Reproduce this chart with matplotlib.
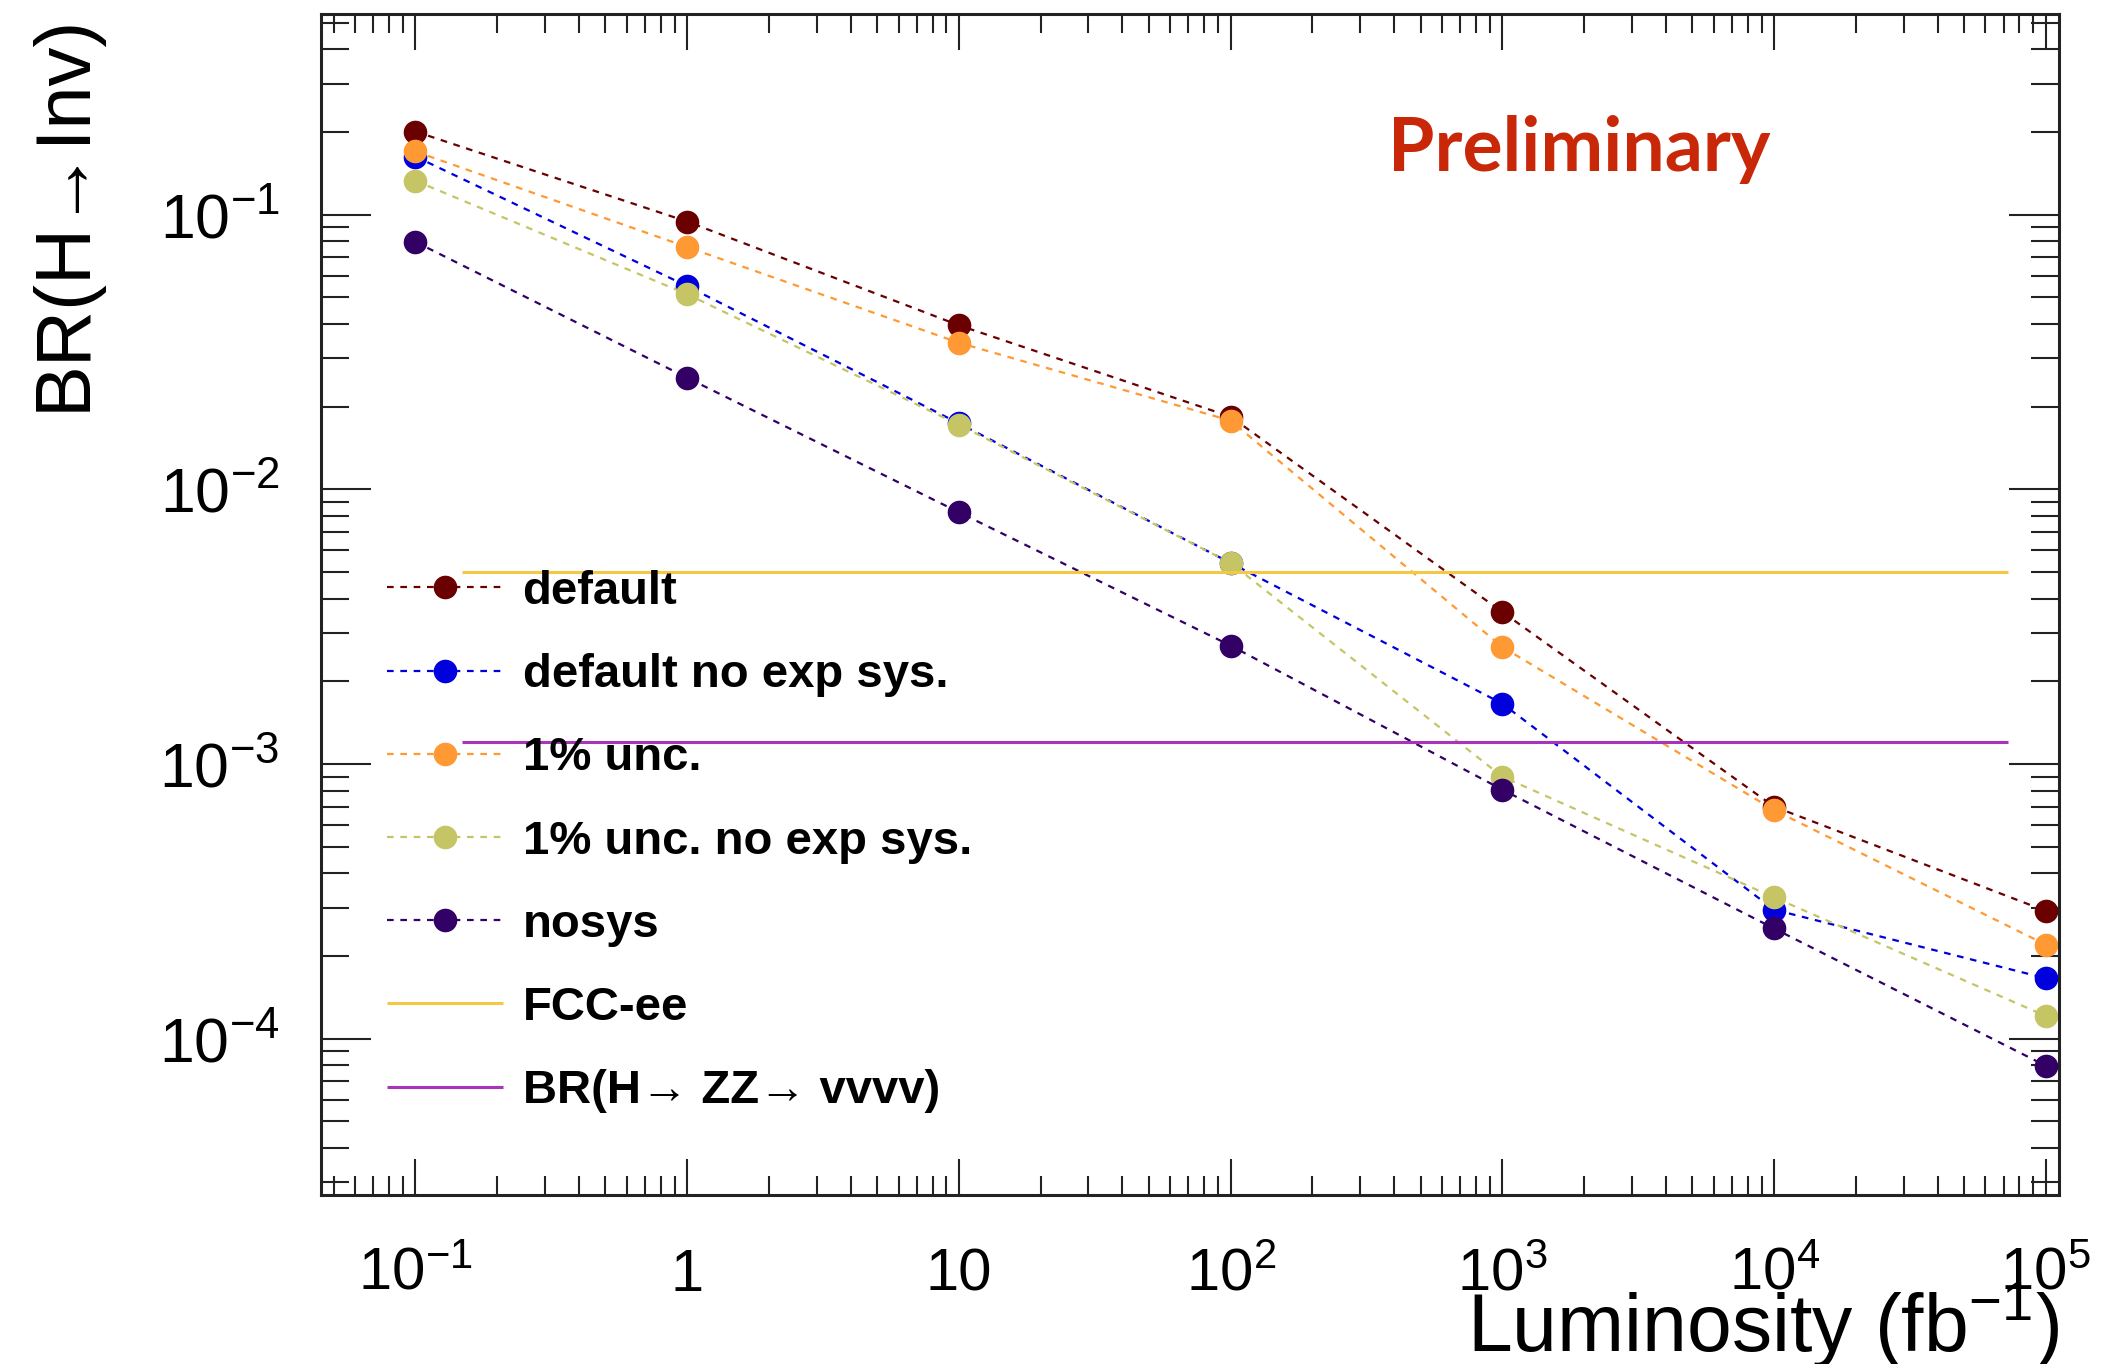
import matplotlib
matplotlib.use("Agg")
import matplotlib.pyplot as plt
from matplotlib.ticker import FixedLocator, FixedFormatter, LogLocator, NullFormatter

plt.rcParams["font.family"] = ["Liberation Sans", "DejaVu Sans"]
plt.rcParams["mathtext.fontset"] = "custom"
plt.rcParams["mathtext.rm"] = "Liberation Sans"
plt.rcParams["mathtext.it"] = "Liberation Sans:italic"
plt.rcParams["mathtext.bf"] = "Liberation Sans:bold"

# luminosity points (fb^-1)
lumi = [0.1, 1, 10, 100, 1000, 1e4, 1e5]

# BR(H->inv) reach per scenario
br_default = [0.201, 0.0945, 0.0396, 0.0184, 0.00358, 7.0e-4, 2.92e-4]
br_default_noexp = [0.163, 0.055, 0.0174, 0.0054, 0.00166, 2.95e-4, 1.66e-4]
br_onepct = [0.170, 0.0763, 0.0342, 0.0178, 0.00267, 6.8e-4, 2.2e-4]
br_onepct_noexp = [0.133, 0.0514, 0.0172, 0.0054, 9.0e-4, 3.27e-4, 1.21e-4]
br_nosys = [0.0797, 0.0255, 0.00826, 0.0027, 8.07e-4, 2.52e-4, 7.97e-5]

# reference lines
fcc_ee = 0.005
br_zz4nu = 1.2e-3
ref_xrange = [0.149, 7.26e4]

series = [
    ("default", br_default, "#6a0000"),
    ("default no exp sys.", br_default_noexp, "#0000dd"),
    ("1% unc.", br_onepct, "#ff9933"),
    ("1% unc. no exp sys.", br_onepct_noexp, "#c5c566"),
    ("nosys", br_nosys, "#330066"),
]

xtick_vals = [0.1, 1, 10, 100, 1000, 1e4, 1e5]
xtick_labels = ["$10^{-1}$", "1", "10", "$10^{2}$", "$10^{3}$", "$10^{4}$", "$10^{5}$"]
ytick_vals = [1e-1, 1e-2, 1e-3, 1e-4]
ytick_labels = ["$10^{-1}$", "$10^{-2}$", "$10^{-3}$", "$10^{-4}$"]

fig = plt.figure(figsize=(21.13, 13.64), dpi=100)
ax = fig.add_axes([0.152, 0.124, 0.8225, 0.866])

for label, vals, color in series:
    ax.plot(lumi, vals, color=color, ls=(0, (3, 3)), lw=1.6,
            marker="o", ms=16, mec=color, mfc=color, label=label)

ax.hlines(fcc_ee, ref_xrange[0], ref_xrange[1], color="#f5c842", lw=2.2, label="FCC-ee")
ax.hlines(br_zz4nu, ref_xrange[0], ref_xrange[1], color="#aa33bb", lw=2.2,
          label="BR(H\u2192 ZZ\u2192 vvvv)")

ax.set_xscale("log")
ax.set_yscale("log")
ax.set_xlim(0.045, 1.12e5)
ax.set_ylim(2.7e-5, 0.54)

ax.xaxis.set_major_locator(FixedLocator(xtick_vals))
ax.xaxis.set_major_formatter(FixedFormatter(xtick_labels))
ax.xaxis.set_minor_locator(LogLocator(base=10, subs=range(2, 10), numticks=20))
ax.xaxis.set_minor_formatter(NullFormatter())
ax.yaxis.set_major_locator(FixedLocator(ytick_vals))
ax.yaxis.set_major_formatter(FixedFormatter(ytick_labels))
ax.yaxis.set_minor_locator(LogLocator(base=10, subs=range(2, 10), numticks=20))
ax.yaxis.set_minor_formatter(NullFormatter())

ax.tick_params(which="both", direction="in", top=True, right=True, width=1.5, color="#222222")
ax.tick_params(axis="x", which="major", length=26, labelsize=43, pad=69)
ax.tick_params(axis="x", which="minor", length=14)
ax.tick_params(axis="y", which="major", length=36, labelsize=45, pad=30)
ax.tick_params(axis="y", which="minor", length=20)
for lab in ax.get_xticklabels():
    lab.set_verticalalignment("baseline")

for sp in ax.spines.values():
    sp.set_linewidth(2.2)
    sp.set_color("#222222")

ax.set_xlabel("Luminosity (fb$^{-1}$)", fontsize=58, loc="right", labelpad=-17)
ax.set_ylabel("BR(H\u2192Inv)", fontsize=56, loc="top", labelpad=42)

leg = ax.legend(loc="upper left", bbox_to_anchor=(387 / 2113, 1 - 570 / 1364),
                bbox_transform=fig.transFigure, frameon=False, fontsize=34,
                handlelength=2.45, handletextpad=0.42, labelspacing=0.83,
                borderpad=0, borderaxespad=0, numpoints=1)
for t in leg.get_texts():
    t.set_fontweight("bold")

fig.text(1388 / 2113, 1 - 171 / 1364, "Preliminary", color="#c82808",
         fontsize=54, fontweight="bold", family=["Lato", "DejaVu Sans"], va="baseline")

fig.savefig("out.png", dpi=100)
